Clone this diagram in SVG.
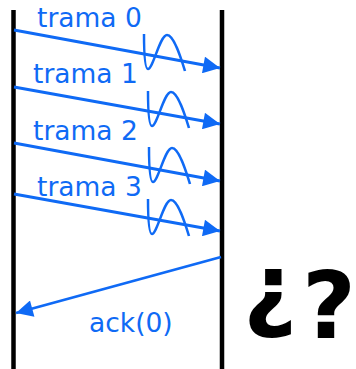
<svg xmlns="http://www.w3.org/2000/svg" width="356" height="369" viewBox="0 0 356 369">
<style>
.lbl{font-family:"DejaVu Sans",Verdana,sans-serif;font-size:26.5px;fill:#0f6af5}
.msg{stroke:#0f6af5;stroke-width:2.8;fill:none}
.wave{stroke:#0f6af5;stroke-width:2.5;fill:none}
.life{stroke:#000;stroke-width:4.5}
.q{font-family:"DejaVu Sans",Verdana,sans-serif;font-size:93px;font-weight:bold;fill:#000}
</style>
<defs>
<marker id="ah" viewBox="0 0 10 10" refX="10" refY="5" markerWidth="7" markerHeight="6" markerUnits="strokeWidth" orient="auto">
<path d="M0,0 L10,5 L0,10 z" fill="#0f6af5"/>
</marker>
</defs>
<g id="lifelines">
<line class="life" x1="13.5" y1="10" x2="13.5" y2="369"/>
<line class="life" x1="222" y1="10" x2="222" y2="369"/>
</g>
<g id="connectors">
<line class="msg" x1="14" y1="30" x2="220" y2="68" marker-end="url(#ah)"/>
<line class="msg" x1="14" y1="87" x2="220" y2="124" marker-end="url(#ah)"/>
<line class="msg" x1="14" y1="143" x2="220" y2="181" marker-end="url(#ah)"/>
<line class="msg" x1="14" y1="194" x2="220" y2="231" marker-end="url(#ah)"/>
<line class="msg" x1="221" y1="257" x2="16" y2="313" marker-end="url(#ah)"/>
</g>
<g id="waves">
<path class="wave" d="M144,34 C144,55 145,69 148,69 C153,69 160,35 167,35 C174,35 181,58 185,71"/>
<path class="wave" d="M148,91 C148,112 149,126 152,126 C157,126 164,92 171,92 C178,92 185,115 189,128"/>
<path class="wave" d="M149,147 C149,168 150,182 153,182 C158,182 165,148 172,148 C179,148 186,171 190,184"/>
<path class="wave" d="M148,199 C148,220 149,234 152,234 C157,234 164,200 171,200 C178,200 185,223 189,236"/>
</g>
<g id="labels">
<text class="lbl" x="37" y="27">trama 0</text>
<text class="lbl" x="33" y="83">trama 1</text>
<text class="lbl" x="33" y="140">trama 2</text>
<text class="lbl" x="37" y="196">trama 3</text>
<text class="lbl" x="89" y="332">ack(0)</text>
</g>
<g id="question">
<text class="q" x="243" y="320">¿</text>
<text class="q" x="302" y="338">?</text>
</g>
</svg>
